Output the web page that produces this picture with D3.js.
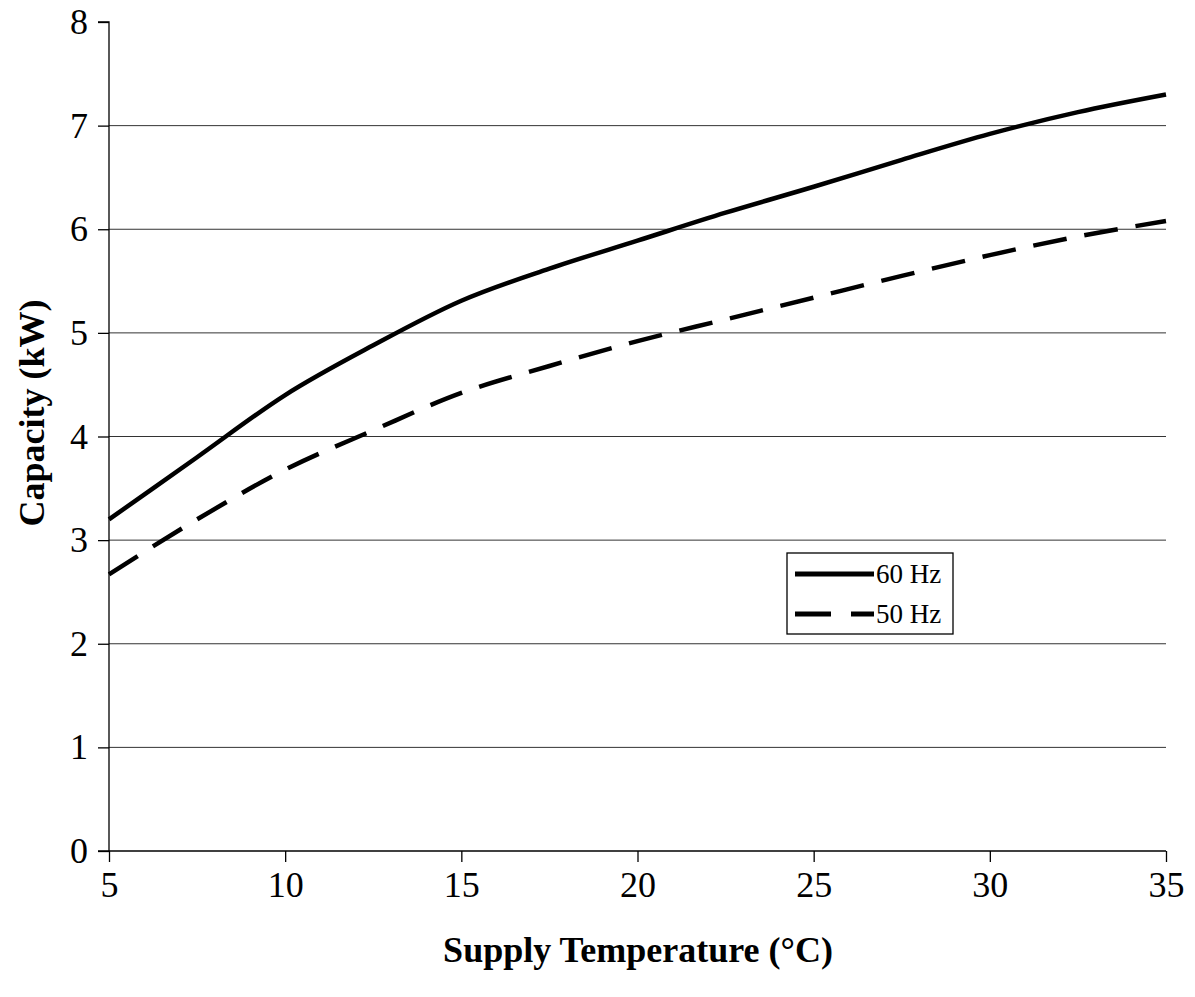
<!DOCTYPE html>
<html lang="en">
<head>
    <meta charset="UTF-8">
    <title>Capacity vs Supply Temperature</title>
    <script src="https://d3js.org/d3.v7.min.js"></script>
    <style>
        body { margin: 0; background: #fff; }
        text { font-family: "Liberation Serif", "Times New Roman", serif; fill: #000; }
        .tick text { font-size: 36px; }
        .title { font-size: 36px; font-weight: bold; }
        .grid line { stroke: #333; stroke-width: 1px; }
    </style>
</head>
<body>
    <svg width="1195" height="997"></svg>

    <script>
        // supply temperature (°C)
        const temps = [5, 7.5, 10, 12.5, 15, 17.5, 20, 22.5, 25, 27.5, 30, 32.5, 35];
        const cap60 = [3.2, 3.8, 4.4, 4.88, 5.31, 5.62, 5.89, 6.16, 6.41, 6.67, 6.92, 7.13, 7.3];
        const cap50 = [2.67, 3.2, 3.68, 4.06, 4.42, 4.68, 4.92, 5.13, 5.34, 5.55, 5.75, 5.93, 6.08];
        const xTicks = [5, 10, 15, 20, 25, 30, 35];
        const yTicks = [0, 1, 2, 3, 4, 5, 6, 7, 8];

        const series = [
            { name: "60 Hz", values: cap60, dash: null },
            { name: "50 Hz", values: cap50, dash: "34,18" }
        ];

        const svg = d3.select("svg");
        const margin = { left: 109, right: 29, top: 22, bottom: 146 };
        const width = 1195 - margin.left - margin.right,
            height = 997 - margin.top - margin.bottom;

        const x = d3.scaleLinear().domain([5, 35]).range([0, width]);
        const y = d3.scaleLinear().domain([0, 8]).range([height, 0]);

        const g = svg.append("g").attr("transform", `translate(${margin.left},${margin.top})`);

        // horizontal gridlines
        g.append("g")
            .attr("class", "grid")
            .selectAll("line")
            .data(yTicks.filter(d => d > 0 && d < 8))
            .enter().append("line")
            .attr("x1", 0).attr("x2", width)
            .attr("y1", d => y(d)).attr("y2", d => y(d));

        const yAxis = g.append("g")
            .call(d3.axisLeft(y).tickValues(yTicks).tickSize(11).tickPadding(10).tickFormat(d3.format("d")));
        const xAxis = g.append("g")
            .attr("transform", `translate(0,${height})`)
            .call(d3.axisBottom(x).tickValues(xTicks).tickSize(11).tickPadding(9).tickFormat(d3.format("d")));
        xAxis.select(".domain").attr("d", `M-11,0H${width}`);
        yAxis.select(".domain").attr("d", `M-11,0H0V${height}`);
        g.selectAll(".domain, .tick line").attr("stroke", "#000").attr("stroke-width", 1.3);

        const line = d3.line()
            .x((d, i) => x(temps[i]))
            .y(d => y(d))
            .curve(d3.curveMonotoneX);

        g.selectAll(".series")
            .data(series)
            .enter().append("path")
            .attr("class", "series")
            .attr("d", d => line(d.values))
            .attr("fill", "none")
            .attr("stroke", "#000")
            .attr("stroke-width", 4.5)
            .attr("stroke-dasharray", d => d.dash);

        // axis titles
        svg.append("text")
            .attr("class", "title")
            .attr("x", 638)
            .attr("y", 962)
            .attr("text-anchor", "middle")
            .text("Supply Temperature (°C)");
        svg.append("text")
            .attr("class", "title")
            .attr("transform", "translate(44,413) rotate(-90)")
            .attr("text-anchor", "middle")
            .text("Capacity (kW)");

        // legend
        const legend = svg.append("g").attr("transform", "translate(787,553)");
        legend.append("rect")
            .attr("width", 166).attr("height", 81)
            .attr("fill", "#fff").attr("stroke", "#000").attr("stroke-width", 1.3);
        const item = legend.selectAll(".item")
            .data(series)
            .enter().append("g")
            .attr("transform", (d, i) => `translate(0,${21 + i * 40})`);
        item.append("line")
            .attr("x1", 8).attr("x2", 87)
            .attr("stroke", "#000").attr("stroke-width", 5)
            .attr("stroke-dasharray", "36,20");
        item.filter(d => !d.dash).select("line").attr("stroke-dasharray", null);
        item.append("text")
            .attr("x", 89).attr("dy", "0.35em")
            .style("font-size", "27px")
            .text(d => d.name);
    </script>
</body>
</html>
